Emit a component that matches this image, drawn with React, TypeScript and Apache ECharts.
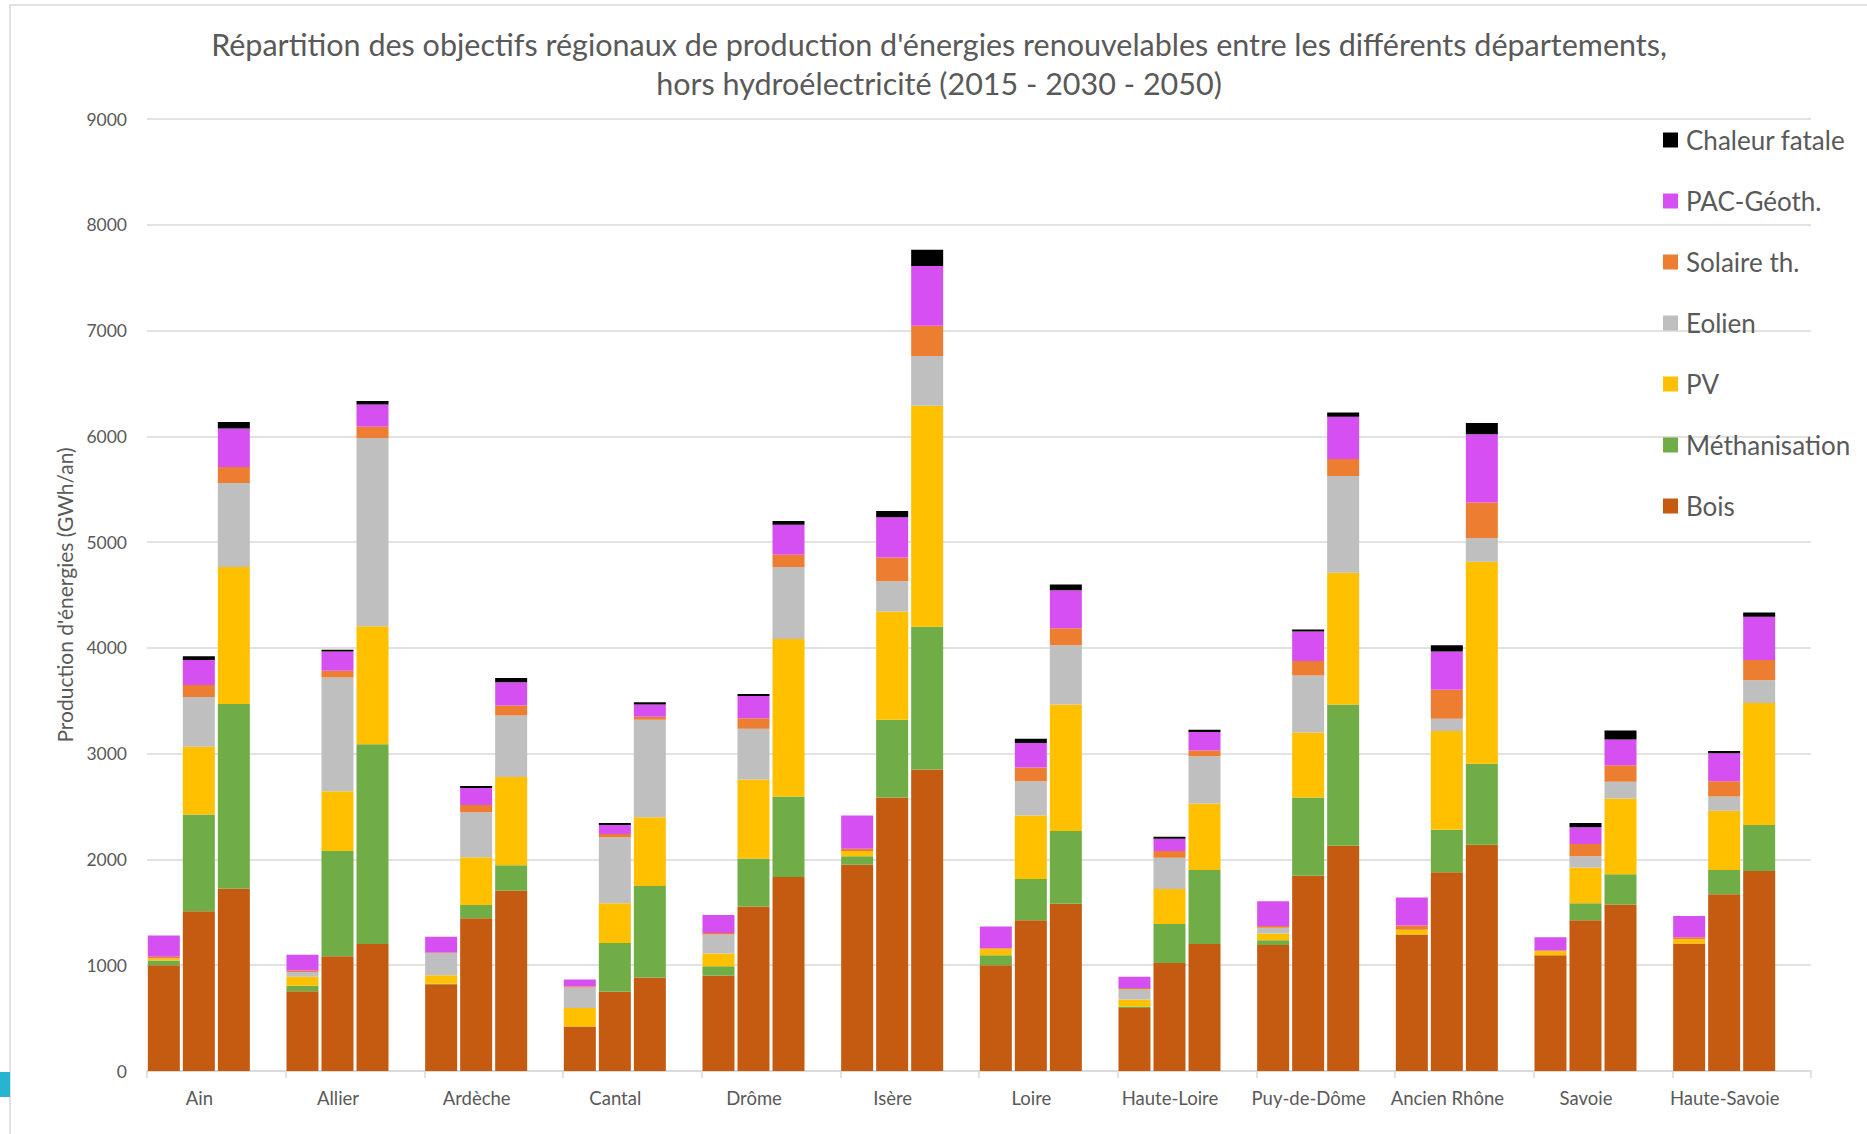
import React, { useEffect, useRef } from "react";
import * as echarts from "echarts";

const categories = ["Ain", "Allier", "Ardèche", "Cantal", "Drôme", "Isère", "Loire", "Haute-Loire", "Puy-de-Dôme", "Ancien Rhône", "Savoie", "Haute-Savoie"];
const years = ["2015", "2030", "2050"];
const types = ["Bois", "Méthanisation", "PV", "Eolien", "Solaire th.", "PAC-Géoth.", "Chaleur fatale"];
const typeColors = ["#C55A11", "#70AD47", "#FFC000", "#BFBFBF", "#ED7D31", "#D64FF0", "#000000"];
const legendOrder = ["Chaleur fatale", "PAC-Géoth.", "Solaire th.", "Eolien", "PV", "Méthanisation", "Bois"];

// 2015
const bois2015 = [1000, 755, 820, 420, 900, 1950, 1000, 595, 1190, 1290, 1095, 1205];
const meth2015 = [45, 50, 5, 0, 90, 80, 95, 15, 45, 0, 0, 0];
const pv2015 = [20, 85, 80, 175, 120, 50, 60, 65, 65, 45, 40, 40];
const eolien2015 = [0, 45, 210, 195, 180, 0, 0, 100, 55, 0, 0, 0];
const solaire2015 = [15, 15, 5, 10, 15, 20, 5, 10, 15, 40, 5, 20];
const pac2015 = [200, 150, 150, 65, 170, 315, 205, 105, 235, 265, 125, 200];
const chaleur2015 = [0, 0, 0, 0, 0, 0, 0, 0, 0, 0, 0, 0];

// 2030
const bois2030 = [1510, 1085, 1445, 750, 1555, 2585, 1425, 1020, 1845, 1880, 1425, 1670];
const meth2030 = [915, 995, 125, 460, 455, 735, 390, 370, 740, 400, 160, 230];
const pv2030 = [640, 565, 450, 375, 745, 1025, 600, 330, 615, 935, 340, 560];
const eolien2030 = [470, 1075, 425, 625, 480, 285, 325, 295, 540, 115, 105, 135];
const solaire2030 = [115, 65, 70, 30, 100, 225, 130, 65, 135, 275, 115, 145];
const pac2030 = [235, 180, 160, 85, 210, 380, 230, 115, 280, 360, 160, 265];
const chaleur2030 = [35, 17, 20, 20, 20, 60, 40, 20, 20, 60, 40, 20];

// 2050
const bois2050 = [1725, 1200, 1705, 885, 1835, 2850, 1580, 1200, 2130, 2140, 1575, 1890];
const meth2050 = [1745, 1890, 240, 865, 760, 1350, 690, 700, 1335, 765, 285, 435];
const pv2050 = [1295, 1115, 835, 650, 1490, 2090, 1195, 630, 1245, 1910, 715, 1155];
const eolien2050 = [795, 1780, 580, 920, 680, 470, 560, 445, 915, 225, 160, 215];
const solaire2050 = [150, 105, 95, 30, 115, 285, 160, 55, 160, 335, 155, 190];
const pac2050 = [365, 210, 220, 115, 285, 565, 360, 175, 400, 645, 245, 410];
const chaleur2050 = [60, 35, 40, 20, 35, 155, 55, 20, 40, 105, 85, 40];

const yearData = [
  [bois2015, meth2015, pv2015, eolien2015, solaire2015, pac2015, chaleur2015],
  [bois2030, meth2030, pv2030, eolien2030, solaire2030, pac2030, chaleur2030],
  [bois2050, meth2050, pv2050, eolien2050, solaire2050, pac2050, chaleur2050],
];
const emptySlot = categories.map(() => null);

const FONT = "Lato, 'Open Sans', sans-serif";
const GREY_TEXT = "#595959";
const GRID_LINE = "#D9D9D9";

export default function App() {
  const ref = useRef<HTMLDivElement>(null);

  useEffect(() => {
    if (!ref.current) return;
    const chart = echarts.init(ref.current, null, { renderer: "svg" });

    const series: any[] = [];
    years.forEach((yr, yi) => {
      types.forEach((t, ti) => {
        series.push({
          type: "bar",
          name: t,
          stack: yr,
          data: yearData[yi][ti],
          barWidth: 32,
          barGap: "9.4%",
          itemStyle: { color: typeColors[ti] },
          emphasis: { disabled: true },
        });
      });
    });
    series.push({
      type: "bar",
      name: "_vide",
      stack: "vide",
      data: emptySlot,
      barWidth: 32,
      barGap: "9.4%",
      itemStyle: { color: "transparent" },
    });

    chart.setOption({
      animation: false,
      backgroundColor: "#ffffff",
      textStyle: { fontFamily: FONT },
      title: {
        text: "Répartition des objectifs régionaux de production d'énergies renouvelables entre les différents départements,\nhors hydroélectricité (2015 - 2030 - 2050)",
        left: 934,
        top: 19,
        textAlign: "center",
        textStyle: { fontFamily: FONT, fontSize: 30.5, fontWeight: "normal", color: GREY_TEXT, lineHeight: 39 },
      },
      legend: {
        data: legendOrder,
        orient: "vertical",
        left: 1658,
        top: 122,
        itemWidth: 15,
        itemHeight: 15,
        itemGap: 35,
        icon: "rect",
        selectedMode: false,
        textStyle: { fontFamily: FONT, fontSize: 26, color: GREY_TEXT, lineHeight: 26, padding: [0, 0, 0, 3] },
      },
      grid: { left: 147, right: 56, top: 119, bottom: 63, containLabel: false },
      xAxis: {
        type: "category",
        data: categories,
        boundaryGap: true,
        axisLine: { lineStyle: { color: GRID_LINE, width: 1.5 } },
        axisTick: { show: true, length: 7, interval: 0, lineStyle: { color: GRID_LINE, width: 1.5 } },
        axisLabel: { interval: 0, hideOverlap: false, color: GREY_TEXT, fontSize: 18.5, fontFamily: FONT, margin: 17, padding: [0, 34, 0, 0] },
      },
      yAxis: {
        type: "value",
        min: 0,
        max: 9000,
        interval: 1000,
        name: "Production d'énergies (GWh/an)",
        nameLocation: "middle",
        nameGap: 72,
        nameTextStyle: { color: GREY_TEXT, fontSize: 21, fontFamily: FONT },
        axisLine: { show: false },
        axisTick: { show: false },
        axisLabel: { color: GREY_TEXT, fontSize: 17.5, fontFamily: FONT, margin: 20, formatter: (v: number) => String(v) },
        splitLine: { lineStyle: { color: GRID_LINE, width: 1.5 } },
      },
      graphic: [
        { type: "rect", shape: { x: 10, y: 5, width: 1900, height: 1200 }, style: { fill: "none", stroke: "#D9D9D9", lineWidth: 1.5 }, silent: true, z: -1 },
        { type: "rect", shape: { x: 0, y: 1072, width: 10, height: 25 }, style: { fill: "#26B5CE" }, silent: true },
      ],
      series,
    });

    return () => chart.dispose();
  }, []);

  return (
    <div
      ref={ref}
      style={{ position: "fixed", left: 0, top: 0, width: 1867, height: 1134 }}
    />
  );
}
